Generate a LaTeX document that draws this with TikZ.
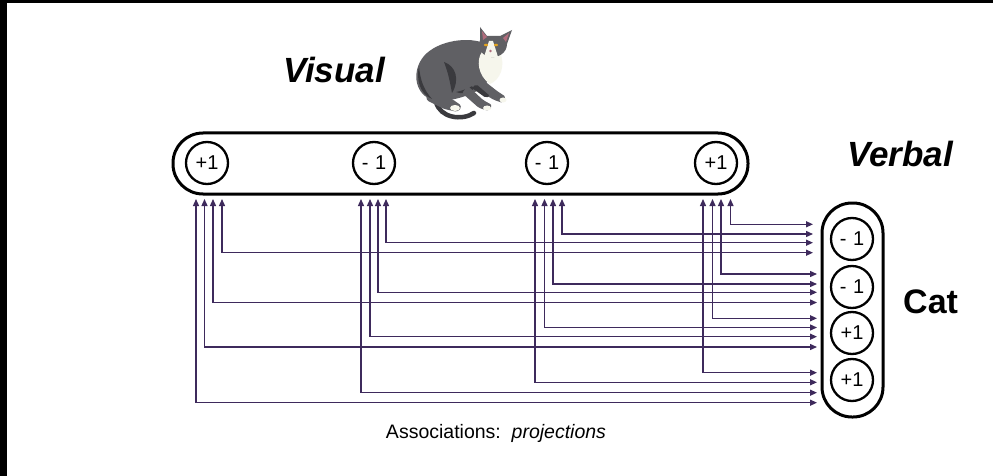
\documentclass[tikz,border=0pt]{standalone}
\usepackage{fontspec}
\setmainfont{Liberation Sans}
\usetikzlibrary{arrows.meta}

\definecolor{assoccol}{RGB}{62,42,92}
\definecolor{catgray}{RGB}{96,96,100}
\definecolor{catdark}{RGB}{58,58,62}
\definecolor{catwhite}{RGB}{246,246,236}
\definecolor{catpink}{RGB}{176,108,124}
\definecolor{cateye}{RGB}{226,164,32}

\begin{document}
\begin{tikzpicture}[x=1pt,y=-1pt,
  pill/.style={draw, line width=3pt, rounded corners=30pt, inner sep=0pt},
  unit/.style={draw, circle, line width=2.3pt, minimum size=42pt, inner sep=0pt,
    font=\fontsize{20}{20}\selectfont},
  title/.style={font=\fontsize{35}{35}\selectfont\bfseries\itshape, inner sep=0pt, anchor=base west},
  assoc/.style={draw=assoccol, line width=1.3pt,
    {Triangle[length=7pt,width=6pt]}-{Triangle[length=7pt,width=6pt]}},
]
\useasboundingbox (0,0) rectangle (993,476);
\fill[white] (0,0) rectangle (993,476);
% frame edges
\fill[black] (0,0) rectangle (7,476);
\fill[black] (0,0) rectangle (993,3);

% ---- visual layer ----
\node[pill, minimum width=575pt, minimum height=61pt] (visbar) at (460.5,163.5) {};
\node[unit] (vis1) at (207,163) {+1};
\node[unit] (vis2) at (374,163) {-\,\,1};
\node[unit] (vis3) at (547,163) {-\,\,1};
\node[unit] (vis4) at (716,163) {+1};

% ---- verbal layer ----
\node[pill, minimum width=61pt, minimum height=214pt] (verbar) at (852.5,310) {};
\node[unit] (verb1) at (852,239) {-\,\,1};
\node[unit] (verb2) at (852,287) {-\,\,1};
\node[unit] (verb3) at (852,333) {+1};
\node[unit] (verb4) at (852,380) {+1};

% ---- labels ----
\node[title] (lvisual) at (283,83) {Visual};
\node[title] (lverbal) at (847,167) {Verbal};
\node[font=\fontsize{34}{34}\selectfont\bfseries, inner sep=0pt, anchor=base west] (lcat) at (903,313) {Cat};
\node[font=\fontsize{19.5}{19.5}\selectfont, inner sep=0pt, anchor=base] (lassoc) at (496,438)
  {Associations:\ \ \textit{projections}};

% ---- association connectors ----
% four arrow columns below each visual unit
\foreach \i/\xa/\xb/\xc/\xd in {1/196/204.5/213/222, 2/361/370/378/386,
                                3/535/544.5/553/562, 4/703/712.5/721/730.5}{
  \coordinate (top\i-1) at (\xa,199);
  \coordinate (top\i-2) at (\xb,199);
  \coordinate (top\i-3) at (\xc,199);
  \coordinate (top\i-4) at (\xd,199);
}
% one bundle of four lines into each verbal unit
\foreach \j/\col/\tx/\ya/\yb/\yc/\yd in {1/4/813/224.3/234/242.7/252.7,
                                         2/3/817/274/284/292.3/302.5,
                                         3/2/817/318.3/327.5/336.7/347,
                                         4/1/817/372.7/382.3/392.7/402.7}{
  \foreach \i/\y in {4/\ya,3/\yb,2/\yc,1/\yd}{
    \coordinate (end\i-\j) at (\tx,\y);
    \draw[assoc] (top\i-\col) |- (end\i-\j);
  }
}

% ---- the cat ----
\begin{scope}[line join=round]
  % tail
  \draw[catdark, line width=4.5pt, line cap=round]
    (436,102) .. controls (440,118) and (462,121) .. (474,113);
  % hind leg
  \fill[catgray, rounded corners=3pt]
    (428,86) -- (452,99) -- (462,106) -- (458,112) -- (444,109) -- (426,100) -- cycle;
  % body
  \fill[catgray]
    (486,44) .. controls (470,36) and (438,40) .. (424,56)
    .. controls (412,70) and (414,92) .. (430,99)
    .. controls (446,104) and (470,96) .. (482,88)
    .. controls (492,80) and (496,60) .. (486,44) -- cycle;
  % darker shading on flank and thigh
  \fill[catdark]
    (419,66) .. controls (416,80) and (420,94) .. (432,99)
    .. controls (424,90) and (420,80) .. (419,66) -- cycle;
  \fill[catdark]
    (444,62) .. controls (456,66) and (460,80) .. (452,93)
    .. controls (450,82) and (448,72) .. (444,62) -- cycle;
  \fill[catdark]
    (456,92) .. controls (466,90) and (474,86) .. (480,80)
    .. controls (476,90) and (466,96) .. (456,92) -- cycle;
  % front legs
  \fill[catgray, rounded corners=2pt]
    (478,76) -- (497,91) -- (506,97) -- (503,103) -- (494,100) -- (471,86) -- cycle;
  \fill[catgray, rounded corners=2pt]
    (468,86) -- (483,100) -- (492,105) -- (489,111) -- (479,108) -- (462,93) -- cycle;
  \fill[catdark, rounded corners=2pt]
    (476,84) -- (490,96) -- (486,98) -- (472,88) -- cycle;
  % white chest
  \fill[catwhite]
    (482,52) .. controls (476,60) and (478,76) .. (490,84)
    .. controls (500,80) and (506,66) .. (500,52) -- cycle;
  % head with ears
  \fill[catgray]
    (480,27) -- (487,36) -- (500,36) -- (512,30) -- (507,44)
    .. controls (507,53) and (498,58) .. (491,57)
    .. controls (483,56) and (477,50) .. (480,40) -- cycle;
  \fill[catpink] (482,31) -- (487,37) -- (483,40) -- cycle;
  \fill[catpink] (509,33) -- (503,38) -- (506,42) -- cycle;
  % face blaze and muzzle
  \fill[catwhite] (489,41) -- (493,41) -- (498,57) -- (484,57) -- cycle;
  \fill[cateye] (486,45) ellipse (2pt and 1.3pt);
  \fill[cateye] (496,45) ellipse (2pt and 1.3pt);
  \fill[catpink] (490.5,51) circle (1.3pt);
  % white paws
  \fill[catwhite] (503,100) ellipse (3.5pt and 2.5pt);
  \fill[catwhite] (487,108) ellipse (4pt and 2.5pt);
  \fill[catwhite] (455,108) ellipse (5pt and 3pt);
\end{scope}
\end{tikzpicture}
\end{document}
